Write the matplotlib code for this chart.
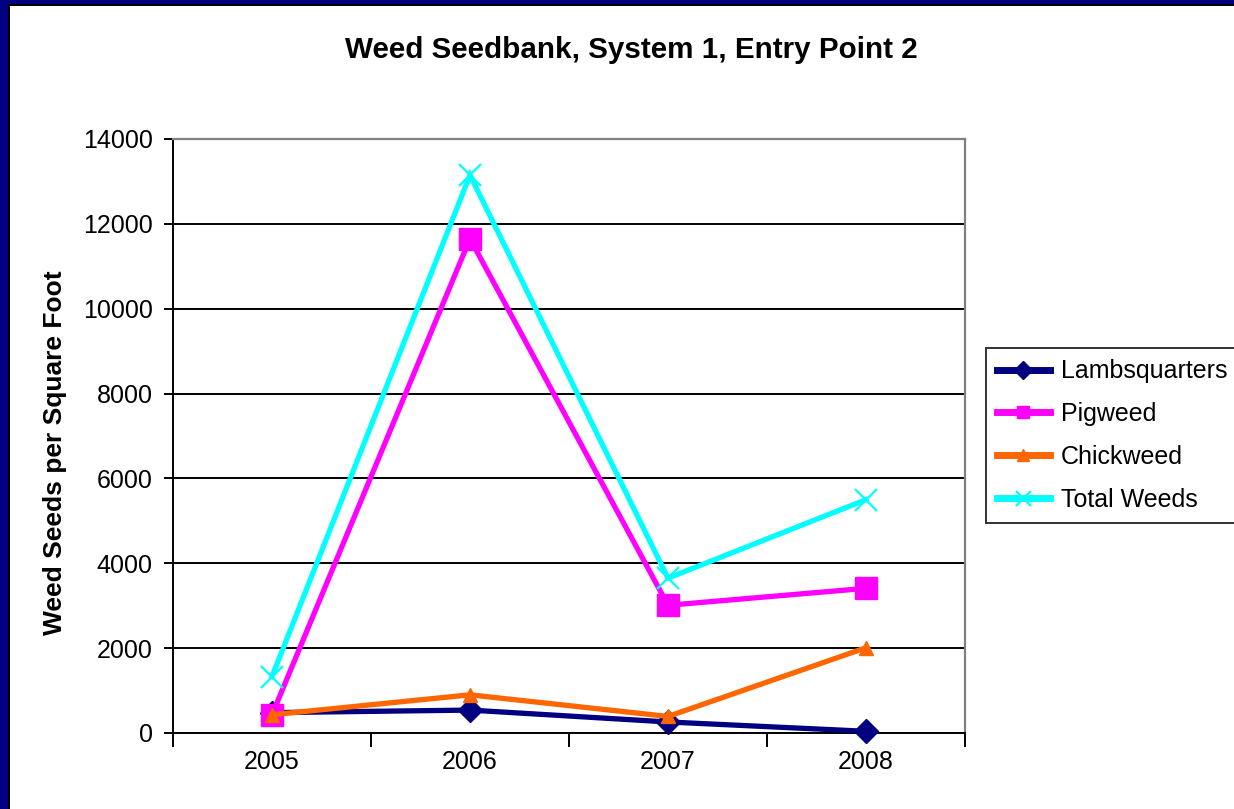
import matplotlib
matplotlib.use("Agg")
import matplotlib.pyplot as plt
from matplotlib.patches import Rectangle

plt.rcParams['font.family'] = ['Liberation Sans', 'DejaVu Sans']

years = ['2005', '2006', '2007', '2008']
lambsquarters = [480, 540, 260, 40]
pigweed = [430, 11650, 3010, 3410]
chickweed = [430, 900, 390, 2010]
total_weeds = [1330, 13150, 3650, 5500]
y_ticks = [0, 2000, 4000, 6000, 8000, 10000, 12000, 14000]

# name, values, colour, marker, plot marker size, legend marker size, edge width
series = [
    ('Lambsquarters', lambsquarters, '#000080', 'D', 12.5, 9.2, 1.0),
    ('Pigweed', pigweed, '#FF00FF', 's', 16.5, 9.0, 1.0),
    ('Chickweed', chickweed, '#FF6600', '^', 10.5, 9.0, 1.0),
    ('Total Weeds', total_weeds, '#00FFFF', 'x', 15.5, 10.8, 1.6),
]

fig = plt.figure(figsize=(12.34, 8.09), dpi=100)
fig.patch.set_facecolor('white')

# slide border: navy band with a thin black inner edge
fig.patches.append(Rectangle((0, 0), 8 / 1234, 1, transform=fig.transFigure,
                             facecolor='#000080', edgecolor='none', zorder=0))
fig.patches.append(Rectangle((8 / 1234, 0), 2 / 1234, 1 - 4 / 809, transform=fig.transFigure,
                             facecolor='black', edgecolor='none', zorder=0))
fig.patches.append(Rectangle((0, 1 - 4 / 809), 1, 4 / 809, transform=fig.transFigure,
                             facecolor='#000080', edgecolor='none', zorder=0))
fig.patches.append(Rectangle((8 / 1234, 1 - 6 / 809), 1, 2 / 809, transform=fig.transFigure,
                             facecolor='black', edgecolor='none', zorder=0))

ax = fig.add_axes([173 / 1234, 1 - 733 / 809, (965 - 173) / 1234, (733 - 139) / 809])

x = list(range(len(years)))
for name, vals, color, marker, ms, _, mew in series:
    ax.plot(x, vals, color=color, lw=3.8, marker=marker, markersize=ms,
            markerfacecolor=color, markeredgecolor=color, markeredgewidth=mew,
            label=name, solid_joinstyle='miter', clip_on=False, zorder=3)

ax.set_xlim(-0.5, len(years) - 0.5)
ax.set_ylim(0, 14000)
ax.set_yticks(y_ticks)
ax.set_yticklabels([str(v) for v in y_ticks], fontsize=18)
ax.set_xticks([i + 0.5 for i in range(-1, len(years))])
ax.set_xticklabels([])
ax.set_xticks(x, minor=True)
ax.set_xticklabels(years, minor=True, fontsize=18)
ax.tick_params(axis='x', which='minor', length=0, pad=12)
ax.tick_params(axis='x', which='major', length=10, width=1.4, direction='out')
ax.tick_params(axis='y', length=6.5, width=1.4, direction='out', pad=8)

ax.yaxis.grid(True, color='black', linewidth=1.4, zorder=1)
ax.set_axisbelow(True)

for side in ('left', 'bottom'):
    ax.spines[side].set_color('black')
    ax.spines[side].set_linewidth(1.4)
for side in ('top', 'right'):
    ax.spines[side].set_color('#808080')
    ax.spines[side].set_linewidth(1.6)

fig.text(631 / 1234, 1 - 50 / 809, 'Weed Seedbank, System 1, Entry Point 2',
         ha='center', va='center', fontsize=21.3, fontweight='bold')
fig.text(55 / 1234, 1 - 453 / 809, 'Weed Seeds per Square Foot',
         ha='center', va='center', rotation=90, fontsize=19, fontweight='bold')

leg = fig.legend(loc='upper left', bbox_to_anchor=(986 / 1234, 1 - 348 / 809),
                 fontsize=18, frameon=True, fancybox=False, edgecolor='black',
                 handlelength=2.1, handletextpad=0.45, borderpad=0.45,
                 labelspacing=0.75, borderaxespad=0)
leg.get_frame().set_linewidth(1.4)
for h, s in zip(leg.legend_handles, series):
    h.set_markersize(s[5])
    h.set_linewidth(5)

fig.savefig('out.png', dpi=100)
